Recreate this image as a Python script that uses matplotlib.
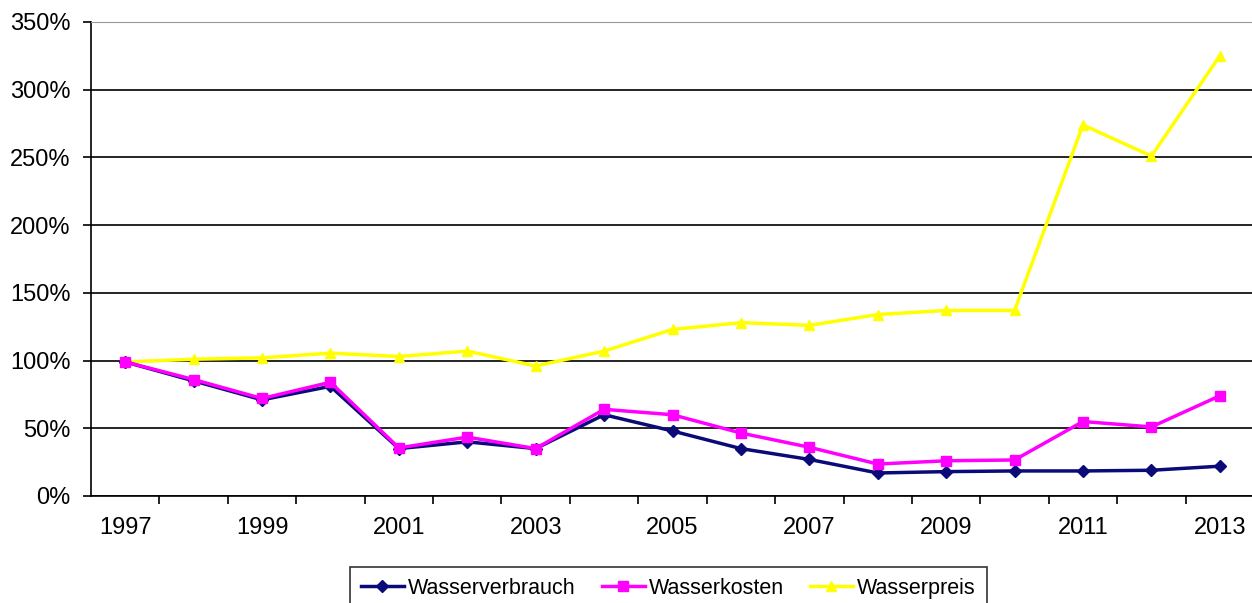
import matplotlib.pyplot as plt
from matplotlib.ticker import FuncFormatter

plt.rcParams['font.family'] = ['Liberation Sans', 'DejaVu Sans']

years = list(range(1997, 2014))
verbrauch = [99, 85, 71, 81, 35, 40, 35, 60, 48, 35, 27, 17, 18, 18.5, 18.5, 19, 22]
kosten = [99, 86, 72, 84, 35.5, 43.5, 35, 64, 60, 46.5, 36, 23.6, 26, 26.6, 55, 51, 74]
preis = [99, 101, 102, 105.5, 103, 107, 96, 107, 123, 128, 126, 134, 137, 137, 274, 251, 325]

W, H = 1252, 603
fig = plt.figure(figsize=(W / 100, H / 100), dpi=100)
ax = fig.add_axes([91 / W, (H - 496) / H, (1254 - 91) / W, (496 - 22) / H])

x = list(range(len(years)))
ax.plot(x, verbrauch, color='#0a0a78', lw=2.5, marker='D', ms=6, label='Wasserverbrauch', zorder=3)
ax.plot(x, kosten, color='#ff00ff', lw=2.5, marker='s', ms=7, label='Wasserkosten', zorder=4)
ax.plot(x, preis, color='#ffff00', lw=2.5, marker='^', ms=7, label='Wasserpreis', zorder=2)

ax.set_xlim(-0.5, len(years) - 0.5)
ax.set_ylim(0, 350)
ax.set_yticks(range(0, 351, 50))
ax.yaxis.set_major_formatter(FuncFormatter(lambda v, p: f"{int(v)}%"))
ax.grid(axis='y', color='black', lw=1.2)
ax.set_axisbelow(True)

# category boundaries as ticks, labels every other year
ax.set_xticks([i + 0.5 for i in range(len(years) - 1)])
ax.set_xticklabels([])
ax.set_xticks(x[::2], minor=True)
ax.set_xticklabels([str(y) for y in years[::2]], minor=True)
ax.tick_params(axis='x', which='minor', length=0, pad=15, labelsize=17)
ax.tick_params(axis='x', which='major', length=6, width=1.2)
ax.tick_params(axis='y', length=5.8, width=1.2, labelsize=17, pad=9)

ax.spines['top'].set_color('#999999')
ax.spines['right'].set_visible(False)
ax.spines['left'].set_linewidth(1.2)
ax.spines['bottom'].set_linewidth(1.2)

leg = fig.legend(loc='upper left', bbox_to_anchor=(350 / W, 1 - 567 / H), ncol=3,
                 fontsize=15.5, frameon=True, fancybox=False, edgecolor='black',
                 handlelength=2.0, handletextpad=0.2, columnspacing=1.2,
                 borderpad=0.5, borderaxespad=0)
leg.get_frame().set_linewidth(1.2)

fig.savefig('out.png', dpi=100)
